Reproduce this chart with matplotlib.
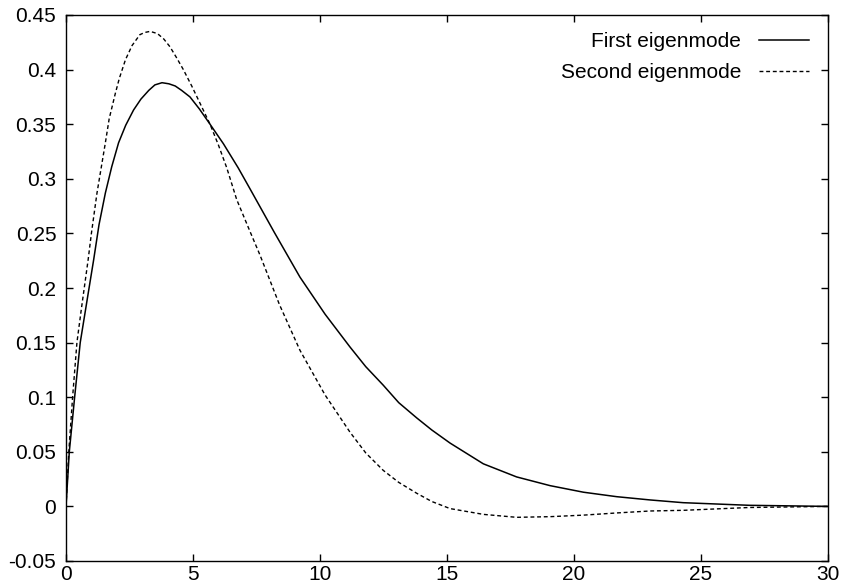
"""Two eigenmode profiles, gnuplot-like look."""

import matplotlib

matplotlib.use("Agg")
import matplotlib.pyplot as plt

# values
first_x = [0, 0.13, 0.34, 0.56, 0.88, 1.09, 1.3, 1.55, 1.8, 2.07, 2.35, 2.66,
           2.95, 3.26, 3.5, 3.78, 4.05, 4.3, 4.55, 4.88, 5.25, 5.67, 6.2,
           6.78, 7.24, 8.2, 9.21, 10.2, 11.18, 11.8, 12.49, 13.1, 13.81, 14.4,
           15.12, 16.43, 17.74, 19.06, 20.37, 21.68, 23.0, 24.3, 26.9, 30]
first_y = [0, 0.05, 0.10, 0.15, 0.196, 0.226, 0.258, 0.287, 0.311, 0.333,
           0.349, 0.363, 0.373, 0.381, 0.386, 0.388, 0.387, 0.385, 0.381,
           0.375, 0.364, 0.350, 0.332, 0.310, 0.291, 0.251, 0.210, 0.176,
           0.146, 0.128, 0.111, 0.095, 0.081, 0.070, 0.058, 0.039, 0.027,
           0.019, 0.013, 0.0089, 0.0059, 0.0034, 0.001, 0]

second_x = [0, 0.11, 0.26, 0.43, 0.6, 0.87, 1.0, 1.22, 1.55, 1.7, 1.94, 2.1,
            2.34, 2.6, 2.91, 3.1, 3.31, 3.6, 3.85, 4.09, 4.35, 4.62, 4.95,
            5.28, 5.67, 6.0, 6.33, 6.72, 7.24, 7.64, 8.4, 9.21, 10.2, 11.18,
            11.8, 12.49, 13.1, 13.81, 14.4, 15.12, 16.43, 17.74, 19.06, 20.37,
            21.68, 23.0, 24.3, 26.9, 30]
second_y = [0, 0.05, 0.10, 0.15, 0.18, 0.2256, 0.25, 0.287, 0.333, 0.355,
            0.378, 0.392, 0.409, 0.422, 0.432, 0.434, 0.435, 0.433, 0.428,
            0.421, 0.411, 0.400, 0.385, 0.369, 0.350, 0.331, 0.310, 0.281,
            0.252, 0.230, 0.185, 0.143, 0.102, 0.068, 0.049, 0.033, 0.022,
            0.012, 0.0045, -0.002, -0.0073, -0.010, -0.0094, -0.008, -0.006,
            -0.0042, -0.0036, -0.001, 0]

x_ticks = [0, 5, 10, 15, 20, 25, 30]
y_ticks = [-0.05, 0, 0.05, 0.1, 0.15, 0.2, 0.25, 0.3, 0.35, 0.4, 0.45]
y_tick_labels = ["-0.05", "0", "0.05", "0.1", "0.15", "0.2", "0.25", "0.3",
                 "0.35", "0.4", "0.45"]

plt.rcParams["font.family"] = ["Liberation Sans", "DejaVu Sans"]
plt.rcParams["axes.unicode_minus"] = False

fig = plt.figure(figsize=(8.42, 5.88), dpi=100)
ax = fig.add_axes([66 / 842, 27 / 588, 762 / 842, 546 / 588])

ax.plot(first_x, first_y, color="black", linewidth=1.1, label="First eigenmode")
ax.plot(second_x, second_y, color="black", linewidth=1.0,
        linestyle=(0, (2.8, 2.0)), label="Second eigenmode")

ax.set_xlim(0, 30)
ax.set_ylim(-0.05, 0.45)
ax.set_xticks(x_ticks)
ax.set_xticklabels([str(t) for t in x_ticks])
ax.set_yticks(y_ticks)
ax.set_yticklabels(y_tick_labels)
ax.tick_params(direction="in", top=True, right=True, length=5, width=1.0,
               labelsize=15, colors="black")
ax.tick_params(axis="x", pad=3)
ax.tick_params(axis="y", pad=7)
for spine in ax.spines.values():
    spine.set_linewidth(1.0)

ax.legend(loc="upper right", bbox_to_anchor=(0.975, 0.968), frameon=False,
          markerfirst=False, fontsize=15, handlelength=2.4,
          handletextpad=0.85, labelspacing=0.55, borderpad=0,
          borderaxespad=0)

fig.savefig("out.png", dpi=100)
plt.close(fig)
